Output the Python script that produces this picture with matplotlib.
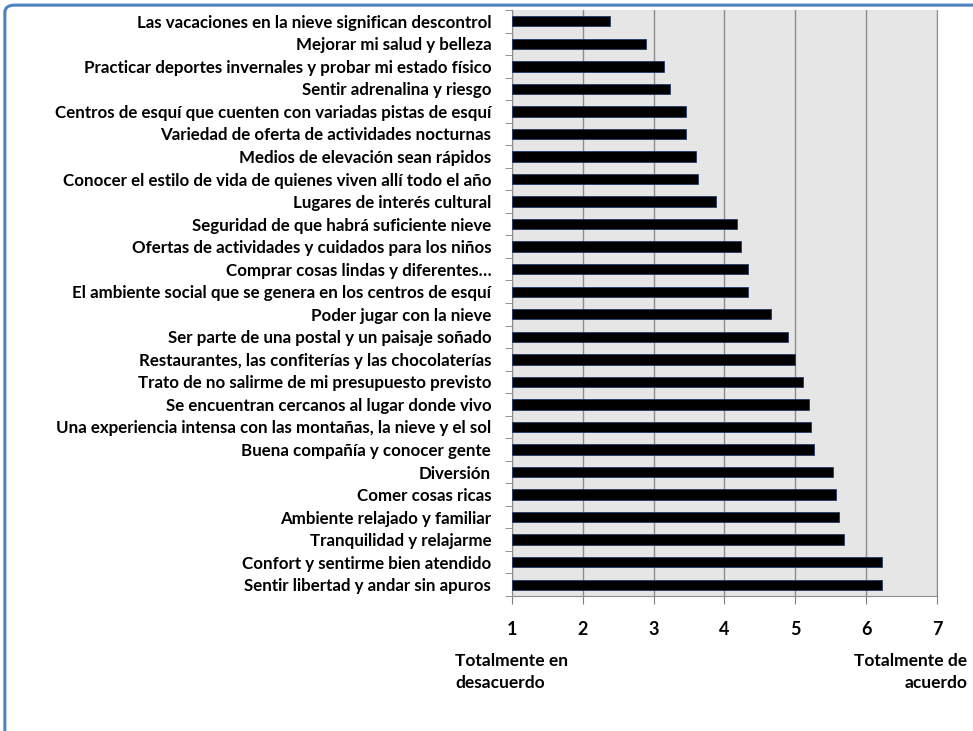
import numpy as np
import matplotlib
import matplotlib.pyplot as plt
from matplotlib.patches import FancyBboxPatch

matplotlib.use("Agg")

categories = [
    "Las vacaciones en la nieve significan descontrol",
    "Mejorar mi salud y belleza",
    "Practicar deportes invernales y probar mi estado físico",
    "Sentir adrenalina y riesgo",
    "Centros de esquí que cuenten con variadas pistas de esquí",
    "Variedad de oferta de actividades nocturnas",
    "Medios de elevación sean rápidos",
    "Conocer el estilo de vida de quienes viven allí todo el año",
    "Lugares de interés cultural",
    "Seguridad de que habrá suficiente nieve",
    "Ofertas de actividades y cuidados para los niños",
    "Comprar cosas lindas y diferentes…",
    "El ambiente social que se genera en los centros de esquí",
    "Poder jugar con la nieve",
    "Ser parte de una postal y un paisaje soñado",
    "Restaurantes, las confiterías y las chocolaterías",
    "Trato de no salirme de mi presupuesto previsto",
    "Se encuentran cercanos al lugar donde vivo",
    "Una experiencia intensa con las montañas, la nieve y el sol",
    "Buena compañía y conocer gente",
    "Diversión",
    "Comer cosas ricas",
    "Ambiente relajado y familiar",
    "Tranquilidad y relajarme",
    "Confort y sentirme bien atendido",
    "Sentir libertad y andar sin apuros",
]
values = [2.39, 2.89, 3.15, 3.23, 3.46, 3.46, 3.60, 3.62, 3.88, 4.18, 4.24,
          4.33, 4.33, 4.65, 4.89, 4.99, 5.11, 5.19, 5.22, 5.27, 5.53, 5.58,
          5.62, 5.69, 6.22, 6.23]
x_ticks = [1, 2, 3, 4, 5, 6, 7]

plt.rcParams["font.family"] = ["Lato", "DejaVu Sans"]

fig = plt.figure(figsize=(9.73, 7.31), dpi=100)
frame = FancyBboxPatch((0.005, -0.1), 1.2, 1.093, boxstyle="round,pad=0,rounding_size=0.01",
                       transform=fig.transFigure, fill=False, edgecolor="#4f81bd",
                       linewidth=2.2, zorder=0)
fig.patches.append(frame)

ax = fig.add_axes([0.5262, 0.1847, 0.4368, 0.8016])
ax.set_facecolor("#e6e6e6")

y = np.arange(len(categories))
ax.barh(y, np.array(values) - 1, left=1, height=0.46, color="black",
        edgecolor="#1f3a6a", linewidth=0.6, zorder=3)

ax.set_xlim(1, 7)
ax.set_ylim(len(categories) - 0.5, -0.5)
ax.set_xticks(x_ticks)
ax.set_xticklabels([str(t) for t in x_ticks], fontsize=13, fontweight="bold")
ax.tick_params(axis="x", length=6, pad=12, color="#808080")
ax.grid(axis="x", color="#8c8c8c", linewidth=1.0, zorder=1)

ax.set_yticks(y)
ax.set_yticklabels(categories, fontsize=12.2, fontweight="bold")
ax.tick_params(axis="y", which="major", length=0, pad=15)
ax.set_yticks(np.arange(-0.5, len(categories), 1), minor=True)
ax.tick_params(axis="y", which="minor", length=5, color="#808080")

for side in ["left", "bottom", "right"]:
    ax.spines[side].set_color("#8c8c8c")
ax.spines["top"].set_visible(False)

fig.text(0.468, 0.081, "Totalmente en\ndesacuerdo", fontsize=12.5, fontweight="bold",
         ha="left", va="center", linespacing=1.45)
fig.text(0.994, 0.081, "Totalmente de\nacuerdo", fontsize=12.5, fontweight="bold",
         ha="right", va="center", multialignment="right", linespacing=1.45)

fig.savefig("out.png", dpi=100)
